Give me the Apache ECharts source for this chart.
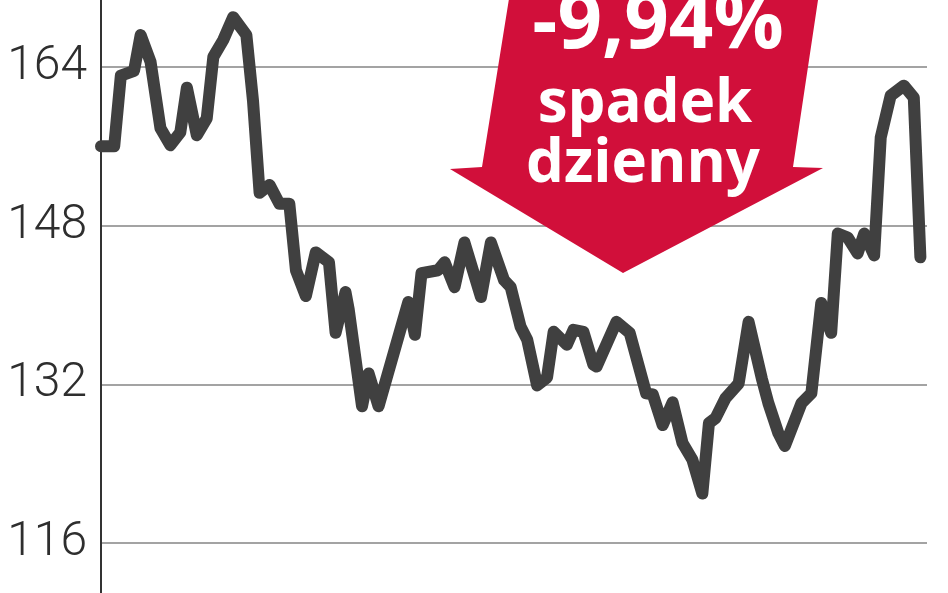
<!DOCTYPE html>
<html>
<head>
<meta charset="utf-8">
<script src="https://cdn.jsdelivr.net/npm/echarts@6/dist/echarts.min.js"></script>
<style>
  html, body { margin: 0; padding: 0; background: #fff; }
  #chart { width: 948px; height: 593px; }
</style>
</head>
<body>
<div id="chart"></div>
<script>
// Session index (trading day) of each turning point
const days = [0, 4, 6, 10, 12, 15, 18, 21, 24, 26, 29, 32, 34, 37, 40, 44, 46, 48, 51, 54,
  57, 59, 62, 65, 69, 71, 74, 75, 79, 81, 84, 93, 95, 97, 102, 104, 107, 110, 115, 118,
  122, 124, 127, 129, 132, 135, 137, 141, 143, 146, 149, 150, 156, 160, 165, 167, 170, 173, 176, 179,
  182, 184, 186, 189, 193, 196, 200, 202, 205, 207, 212, 215, 218, 221, 223, 226, 229, 231, 234, 236,
  239, 243, 246, 248];
// Price at each of those points
const prices = [156.0, 156.0, 163.1, 163.6, 167.2, 164.5, 157.8, 156.1, 157.4, 161.9,
  157.1, 158.8, 165.0, 166.7, 169.0, 167.2, 160.6, 151.3, 152.1, 150.2,
  150.2, 143.5, 140.9, 145.3, 144.3, 137.2, 141.3, 139.5, 129.8, 133.1,
  129.8, 140.3, 137.0, 143.2, 143.5, 144.3, 141.8, 146.3, 140.8, 146.3,
  142.5, 141.8, 137.8, 136.5, 131.9, 132.7, 137.3, 136.0, 137.5, 137.3,
  134.0, 133.8, 138.3, 137.2, 131.1, 131.0, 127.9, 130.2, 126.1, 124.4,
  121.0, 128.1, 128.6, 130.6, 132.1, 138.3, 132.6, 130.1, 127.1, 125.8,
  130.1, 131.1, 140.2, 137.2, 147.2, 146.8, 145.2, 147.2, 145.0, 156.9,
  161.1, 162.1, 160.9, 144.8];
// Y tick labels shown
const yTicks = [116, 132, 148, 164];
const annotationLines = ['-9,94%', 'spadek', 'dzienny'];

const seriesData = days.map((d, i) => [d, prices[i]]);

const chart = echarts.init(document.getElementById('chart'), null, { renderer: 'canvas' });
chart.setOption({
  backgroundColor: '#ffffff',
  animation: false,
  grid: { left: 101, right: 21, top: -92, bottom: -109, containLabel: false, outerBoundsMode: 'none' },
  xAxis: {
    type: 'value', min: 0, max: 250, show: false, splitLine: { show: false }
  },
  yAxis: {
    type: 'value', min: 100, max: 180, interval: 16,
    axisLine: { show: true, lineStyle: { color: '#333333', width: 2 } },
    axisTick: { show: false },
    splitLine: { show: true, lineStyle: { color: '#a3a3a3', width: 2 } },
    axisLabel: {
      showMinLabel: false, showMaxLabel: false,
      margin: 14, color: '#2e2e2e', fontSize: 48, fontWeight: 300, fontFamily: 'Roboto',
      formatter: v => (yTicks.indexOf(v) >= 0 ? String(v) : '')
    }
  },
  series: [{
    type: 'line',
    data: seriesData,
    showSymbol: false,
    clip: false,
    lineStyle: { color: '#404040', width: 12, cap: 'round', join: 'round' },
    z: 3
  }],
  graphic: [
    {
      type: 'polygon', z: 1,
      shape: { points: [[512, -20], [482, 167], [450, 169], [623, 273], [823, 168], [793, 167], [821, -20]] },
      style: { fill: '#d10f3a' }
    },
    {
      type: 'text', z: 2, x: 658, y: 26,
      style: { text: annotationLines[0], fill: '#ffffff', fontSize: 78, fontWeight: 'bold', fontFamily: 'Open Sans', align: 'center', verticalAlign: 'middle' }
    },
    {
      type: 'text', z: 2, x: 645, y: 105,
      style: { text: annotationLines[1], fill: '#ffffff', fontSize: 60, fontWeight: 'bold', fontFamily: 'Open Sans', align: 'center', verticalAlign: 'middle' }
    },
    {
      type: 'text', z: 2, x: 643, y: 165,
      style: { text: annotationLines[2], fill: '#ffffff', fontSize: 60, fontWeight: 'bold', fontFamily: 'Open Sans', align: 'center', verticalAlign: 'middle' }
    }
  ]
});
</script>
</body>
</html>
